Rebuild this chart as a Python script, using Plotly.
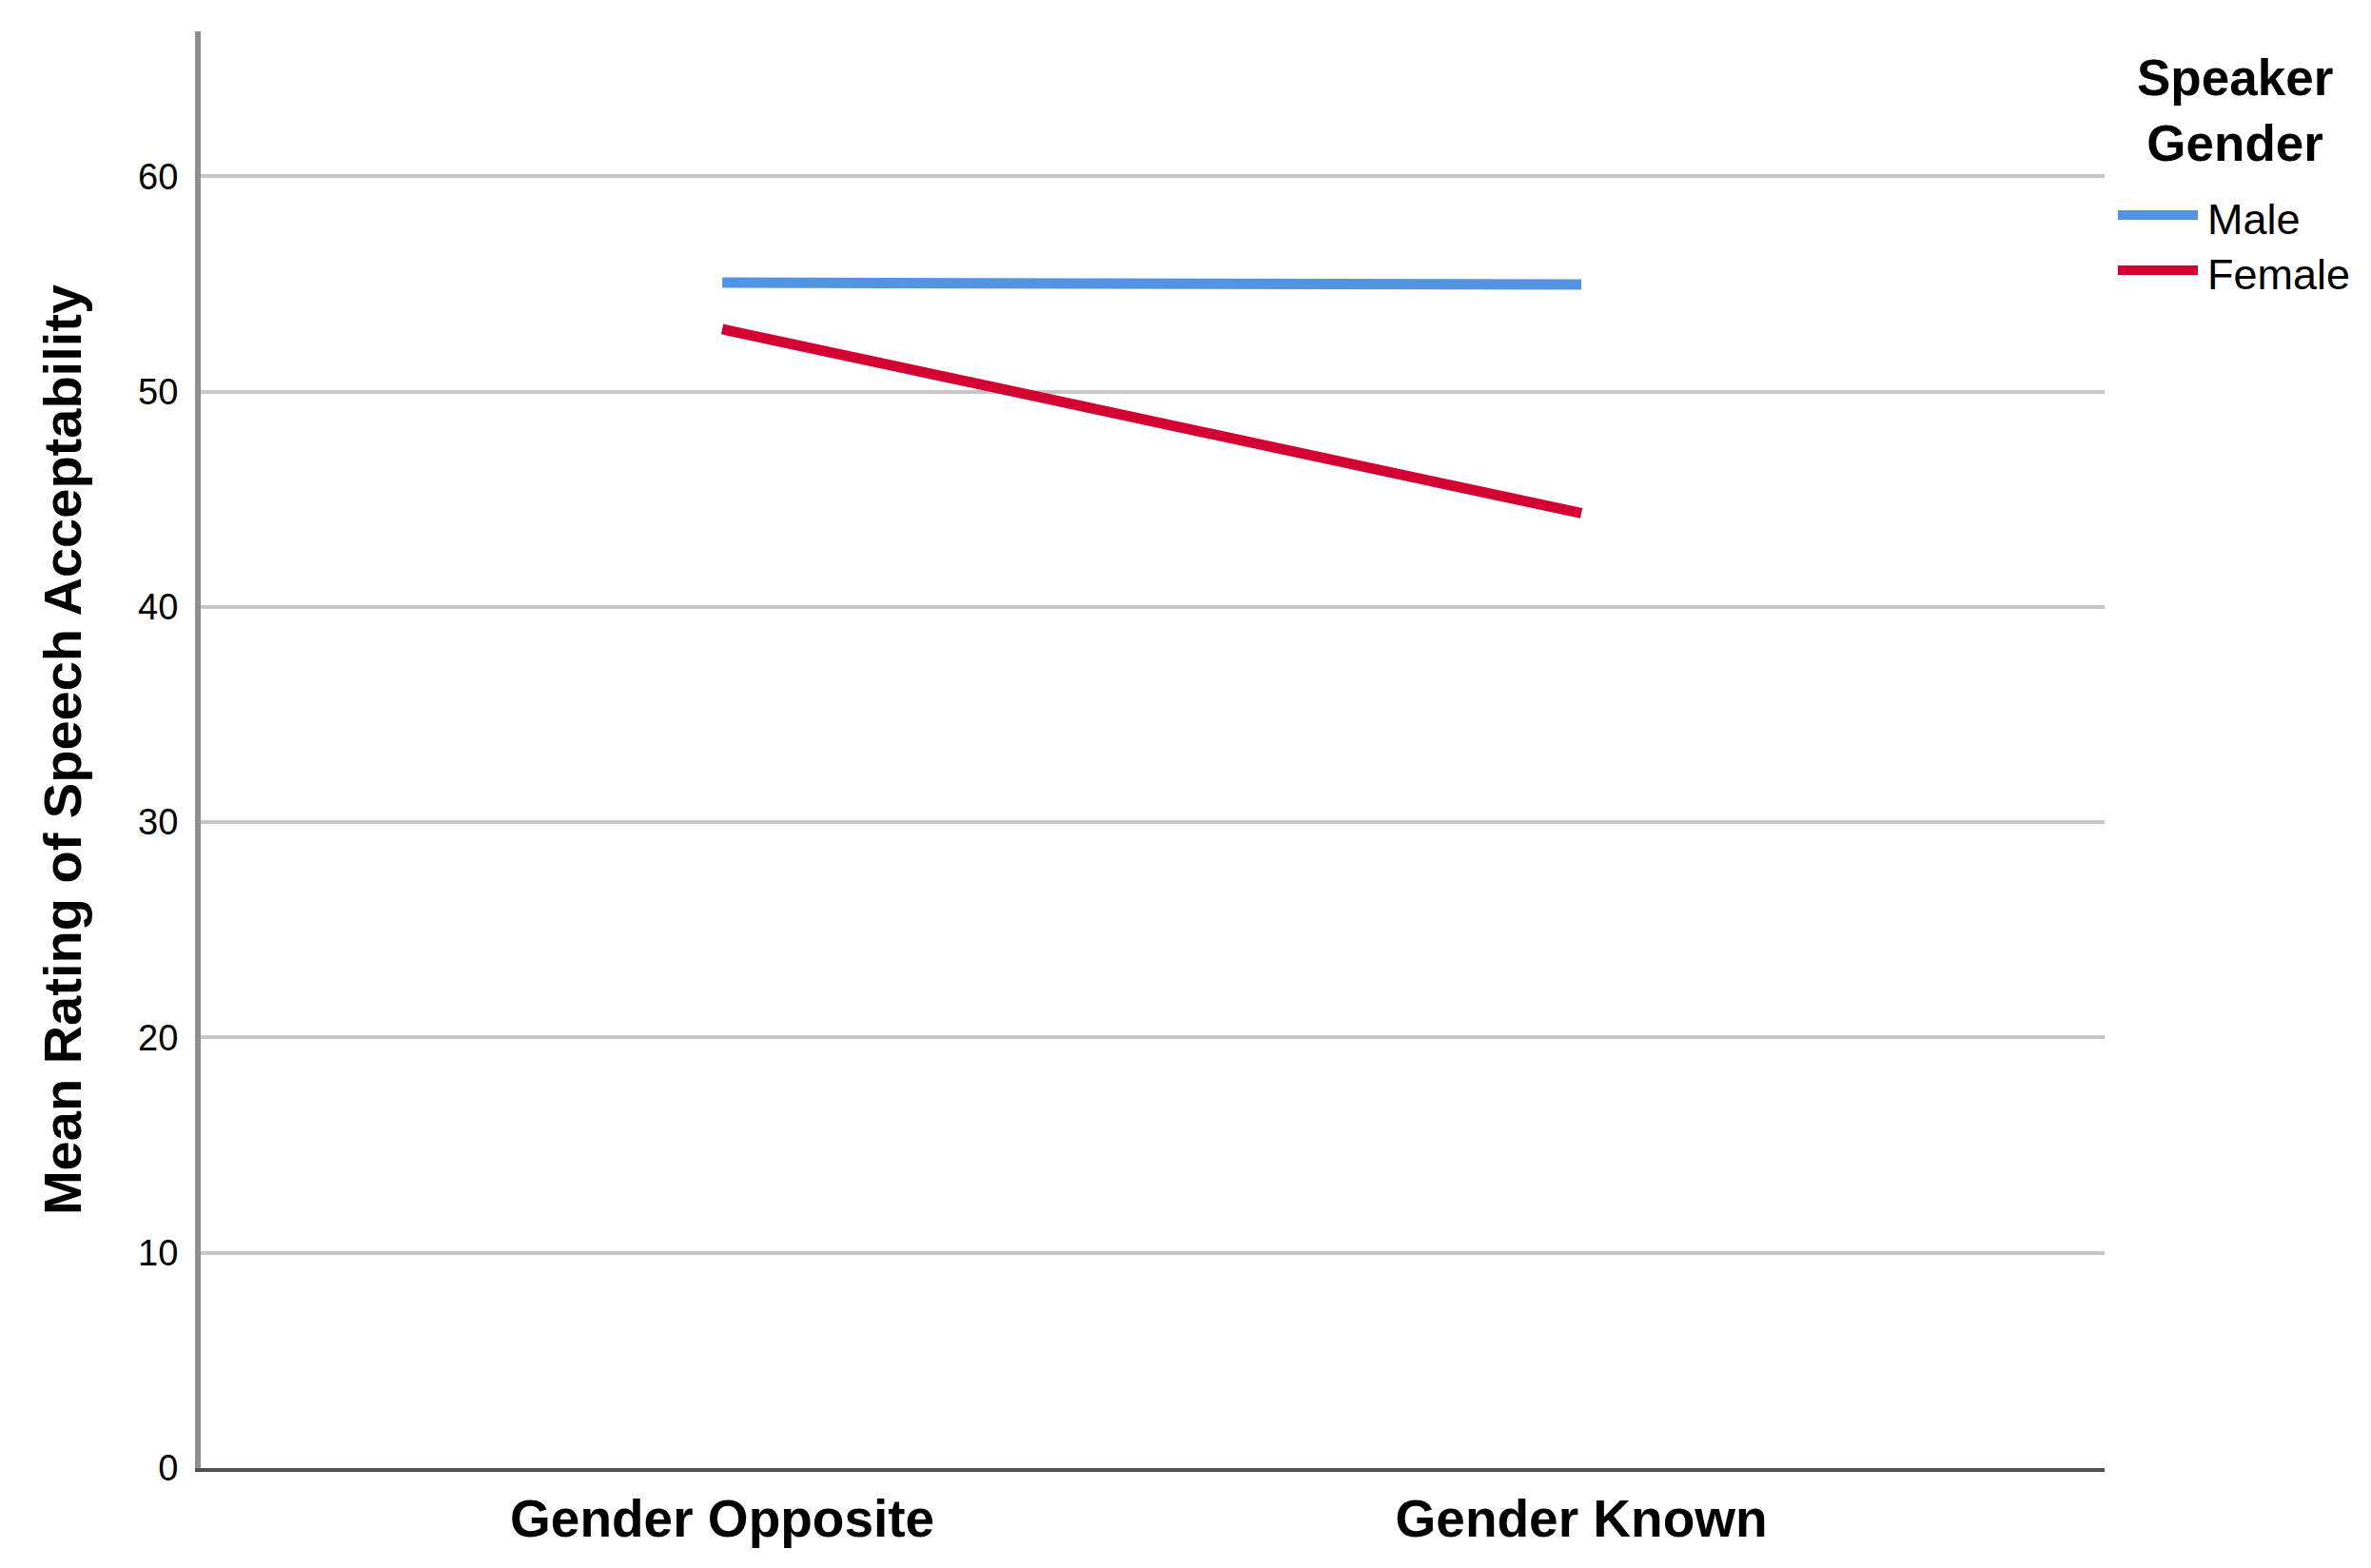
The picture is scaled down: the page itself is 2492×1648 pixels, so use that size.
import plotly.graph_objects as go

# ---- data ----
categories = ["Gender Opposite", "Gender Known"]
male_values = [55.06, 54.97]
female_values = [52.9, 44.35]
series_names = ["Male", "Female"]
series_colors = ["#5393E3", "#D50032"]
y_tick_values = [0, 10, 20, 30, 40, 50, 60]
y_tick_labels = ["0", "10", "20", "30", "40", "50", "60"]
y_title = "Mean Rating of Speech Acceptability"
legend_title = "Speaker<br>Gender"

# ---- layout geometry (page pixels; the page body adds an 8px offset) ----
OFF = 8
W, H = 2492, 1648
PLOT_L, PLOT_R, PLOT_T, PLOT_B = 211, 2212, 33, 1543
L = PLOT_L - OFF
T = PLOT_T - OFF
R = W - (PLOT_R - OFF)
B = H - (PLOT_B - OFF)
PW, PH = PLOT_R - PLOT_L, PLOT_B - PLOT_T
FONT = "Liberation Sans, Arial, sans-serif"


def px_x(x):
    return (x - PLOT_L) / PW


def px_y(y):
    return (PLOT_B - y) / PH


fig = go.Figure()
for name, vals, col in zip(series_names, [male_values, female_values], series_colors):
    fig.add_trace(go.Scatter(
        x=categories, y=vals, mode="lines", name=name,
        line=dict(color=col, width=11), showlegend=False,
    ))

fig.update_layout(
    width=W, height=H,
    margin=dict(l=L, r=R, t=T, b=B, autoexpand=False),
    plot_bgcolor="white", paper_bgcolor="white",
    font=dict(family=FONT, color="black"),
    xaxis=dict(
        type="category", range=[-0.607, 1.609],
        showline=True, linecolor="#505050", linewidth=4,
        showgrid=False, zeroline=False, ticks="",
        tickfont=dict(size=55, family=FONT, color="black", weight="bold"),
        ticklabelstandoff=2,
    ),
    yaxis=dict(
        range=[0, 66.73],
        tickvals=y_tick_values, ticktext=y_tick_labels,
        showline=True, linecolor="#8f8f8f", linewidth=6,
        showgrid=True, gridcolor="#c6c6c6", gridwidth=4,
        zeroline=False, ticks="",
        tickfont=dict(size=38, family=FONT, color="black"),
        ticklabelstandoff=10,
        title=dict(text=y_title, font=dict(size=56, family=FONT, color="black", weight="bold"), standoff=44),
        automargin=False,
    ),
)

# ---- custom legend ----
fig.add_annotation(x=px_x(2349), y=px_y(116), xref="paper", yref="paper",
                   text=legend_title, showarrow=False, xanchor="center", yanchor="middle",
                   font=dict(size=53, family=FONT, color="black", weight="bold"))
legend_rows_y = [226, 284]
for name, col, ly in zip(series_names, series_colors, legend_rows_y):
    fig.add_shape(type="line", xref="paper", yref="paper",
                  x0=px_x(2226), x1=px_x(2310), y0=px_y(ly), y1=px_y(ly),
                  line=dict(color=col, width=10))
    fig.add_annotation(x=px_x(2318), y=px_y(ly + 4), xref="paper", yref="paper",
                       text=name, showarrow=False, xanchor="left", yanchor="middle",
                       font=dict(size=45, family=FONT, color="black"))

fig.write_html("out.html")
